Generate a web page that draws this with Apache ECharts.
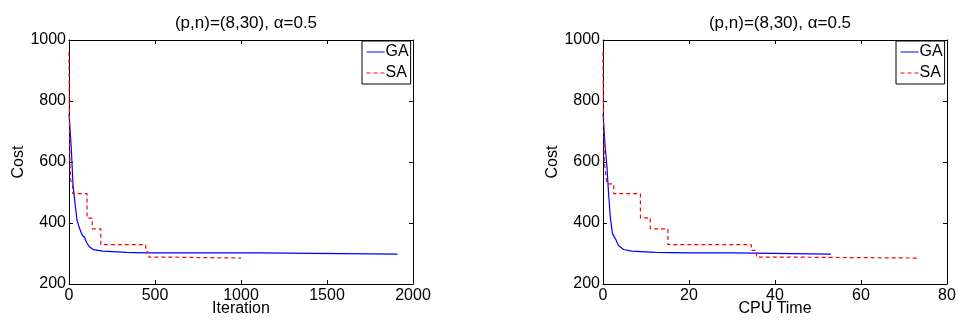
<!DOCTYPE html>
<html>
<head>
<meta charset="utf-8">
<script src="https://cdn.jsdelivr.net/npm/echarts@6/dist/echarts.min.js"></script>
<style>
  html, body { margin: 0; padding: 0; background: #fff; }
  #chart { width: 958px; height: 320px; }
</style>
</head>
<body>
<div id="chart"></div>
<script>
// Convergence of GA vs SA, cost against iteration count and CPU time
const titleText = '(p,n)=(8,30), \u03b1=0.5';
const seriesNames = ['GA', 'SA'];

const iterTicks = { min: 0, max: 2000, interval: 500 };
const timeTicks = { min: 0, max: 80, interval: 20 };
const costTicks = { min: 200, max: 1000, interval: 200 };

// GA: cost per iteration
const gaIterX = [0, 4, 14, 23, 33, 47, 62, 78, 91, 101, 120, 140, 198, 334, 450, 1105, 1112, 1910];
const gaIterY = [760, 727, 638, 528, 474, 408, 381, 359, 353, 337, 321, 313, 308, 304, 302, 302, 298, 298];
// SA: cost per iteration
const saIterX = [0, 2, 5, 10, 20, 22, 105, 105, 135, 135, 185, 185, 446, 446, 464, 464, 600, 600, 1000];
const saIterY = [960, 780, 600, 540, 530, 496, 496, 416, 416, 381, 381, 329, 329, 305, 305, 288, 288, 285, 285];

// GA: cost vs CPU time
const gaTimeX = [0, 0.15, 0.5, 0.93, 1.3, 1.7, 2.2, 2.9, 3.6, 4.8, 6.7, 12.2, 20, 30.3, 30.6, 53];
const gaTimeY = [760, 725, 650, 583, 496, 419, 365, 348, 326, 313, 308, 304, 302, 302, 298, 298];
// SA: cost vs CPU time
const saTimeX = [0, 0.1, 0.3, 0.9, 2.5, 2.5, 8.7, 8.7, 11, 11, 15.1, 15.1, 34.5, 34.5, 35.7, 35.7, 45, 45, 73.4];
const saTimeY = [960, 780, 600, 528, 528, 496, 496, 417, 417, 381, 381, 329, 329, 310, 310, 288, 288, 285, 285];

const xLabels = ['Iteration', 'CPU Time'];
const yLabel = 'Cost';

const zip = (xs, ys) => xs.map((x, i) => [x, ys[i]]);

const FONT = 'Liberation Sans';
const BLACK = '#000';
const plain = v => String(v);

const grids = [
  { left: 69, top: 40, width: 344, height: 244, outerBoundsMode: 'none', containLabel: false },
  { left: 603, top: 40, width: 344, height: 244, outerBoundsMode: 'none', containLabel: false }
];

function mainX(gridIndex, t, name) {
  return {
    type: 'value', gridIndex, position: 'bottom',
    min: t.min, max: t.max, interval: t.interval,
    name, nameLocation: 'middle', nameGap: 17, nameMoveOverlap: false,
    nameTextStyle: { color: BLACK, fontSize: 16, fontFamily: FONT, lineHeight: 16 },
    axisLine: { show: true, onZero: false, lineStyle: { color: BLACK, width: 1 } },
    axisTick: { show: true, inside: true, length: 4, lineStyle: { color: BLACK } },
    axisLabel: { color: BLACK, fontSize: 16, fontFamily: FONT, margin: 4, formatter: plain },
    splitLine: { show: false }
  };
}
function topX(gridIndex, t) {
  return {
    type: 'value', gridIndex, position: 'top',
    min: t.min, max: t.max, interval: t.interval,
    axisLine: { show: true, onZero: false, lineStyle: { color: BLACK, width: 1 } },
    axisTick: { show: true, inside: true, length: 4, lineStyle: { color: BLACK } },
    axisLabel: { show: false }, splitLine: { show: false }
  };
}
function mainY(gridIndex) {
  return {
    type: 'value', gridIndex, position: 'left',
    min: costTicks.min, max: costTicks.max, interval: costTicks.interval,
    name: yLabel, nameLocation: 'middle', nameGap: 42, nameRotate: 90, nameMoveOverlap: false,
    nameTextStyle: { color: BLACK, fontSize: 16, fontFamily: FONT },
    axisLine: { show: true, onZero: false, lineStyle: { color: BLACK, width: 1 } },
    axisTick: { show: true, inside: true, length: 4, lineStyle: { color: BLACK } },
    axisLabel: { color: BLACK, fontSize: 16, fontFamily: FONT, margin: 3, formatter: plain },
    splitLine: { show: false }
  };
}
function rightY(gridIndex) {
  return {
    type: 'value', gridIndex, position: 'right',
    min: costTicks.min, max: costTicks.max, interval: costTicks.interval,
    axisLine: { show: true, onZero: false, lineStyle: { color: BLACK, width: 1 } },
    axisTick: { show: true, inside: true, length: 4, lineStyle: { color: BLACK } },
    axisLabel: { show: false }, splitLine: { show: false }
  };
}

function lineSeries(name, data, axisIdx, color, dashed) {
  return {
    type: 'line', name, data,
    xAxisIndex: axisIdx, yAxisIndex: axisIdx,
    symbol: 'none', animation: false, silent: true,
    lineStyle: { color, width: 1.2, type: dashed ? [4, 3] : 'solid' },
    itemStyle: { color }
  };
}

function legendAt(left) {
  return {
    left, top: 41, orient: 'vertical',
    data: seriesNames,
    itemWidth: 18, itemHeight: 14, itemGap: 5,
    itemStyle: { opacity: 0 },
    lineStyle: { width: 1 },
    backgroundColor: '#fff',
    borderColor: BLACK, borderWidth: 1, borderRadius: 0,
    padding: [3, 2, 3, 4],
    textStyle: { color: BLACK, fontSize: 16, fontFamily: FONT, padding: [0, 0, 0, -4] },
    selectedMode: false
  };
}

const chart = echarts.init(document.getElementById('chart'), null, { renderer: 'canvas' });
chart.setOption({
  backgroundColor: '#fff',
  animation: false,
  title: [
    { text: titleText, left: 241, top: 10, textAlign: 'center',
      textStyle: { color: BLACK, fontSize: 17, fontWeight: 'normal', fontFamily: FONT } },
    { text: titleText, left: 775, top: 10, textAlign: 'center',
      textStyle: { color: BLACK, fontSize: 17, fontWeight: 'normal', fontFamily: FONT } }
  ],
  legend: [legendAt(362), legendAt(896)],
  grid: grids,
  xAxis: [mainX(0, iterTicks, xLabels[0]), mainX(1, timeTicks, xLabels[1]), topX(0, iterTicks), topX(1, timeTicks)],
  yAxis: [mainY(0), mainY(1), rightY(0), rightY(1)],
  series: [
    lineSeries(seriesNames[0], zip(gaIterX, gaIterY), 0, '#0000ff', false),
    lineSeries(seriesNames[1], zip(saIterX, saIterY), 0, '#ff0000', true),
    lineSeries(seriesNames[0], zip(gaTimeX, gaTimeY), 1, '#0000ff', false),
    lineSeries(seriesNames[1], zip(saTimeX, saTimeY), 1, '#ff0000', true)
  ]
});
</script>
</body>
</html>
